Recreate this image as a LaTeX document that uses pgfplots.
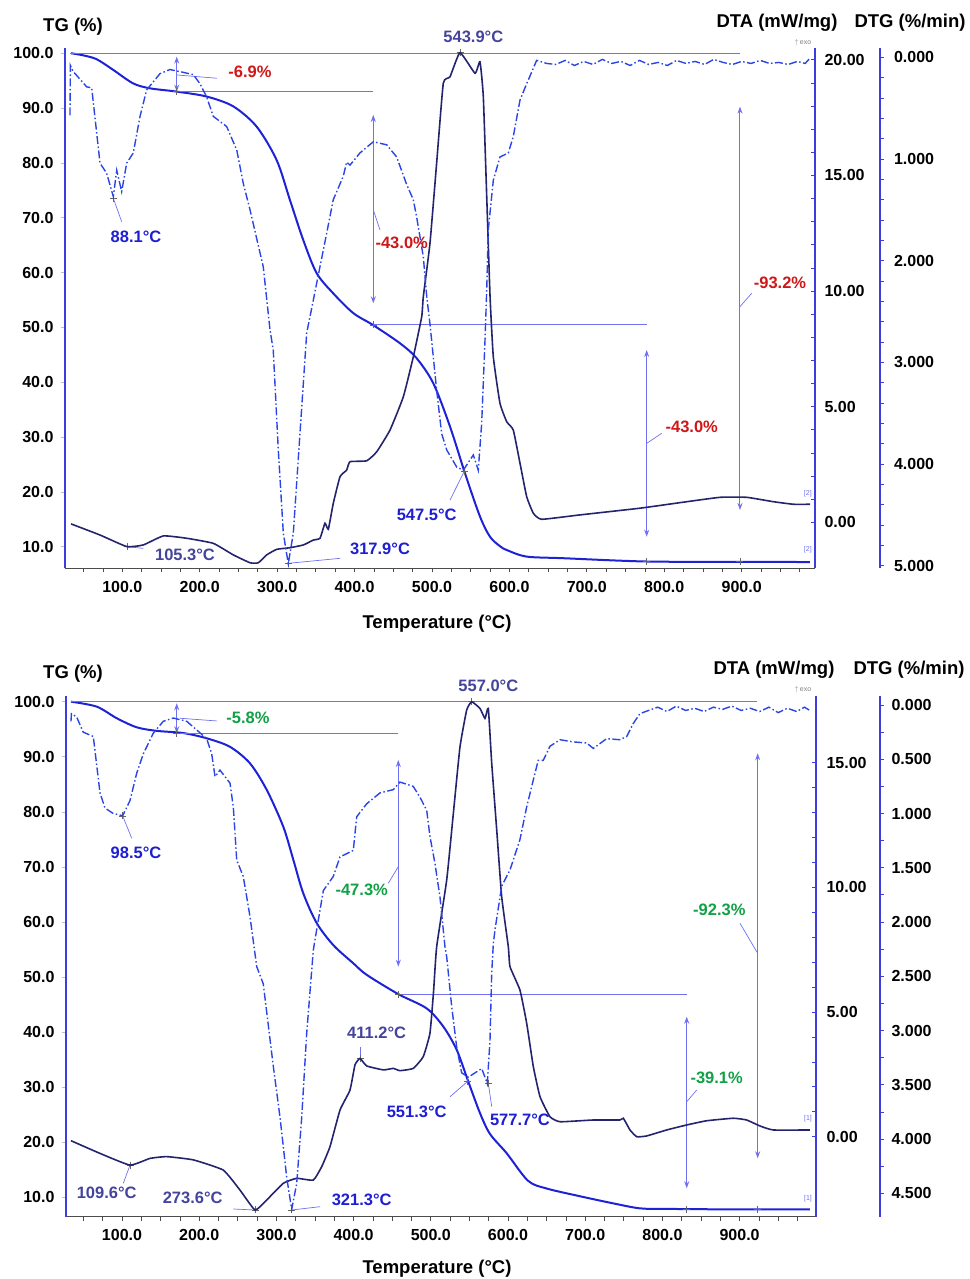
\documentclass[border=0pt]{standalone}
\usepackage{pgfplots}
\pgfplotsset{compat=1.18}
\usepackage{fontspec}
\setmainfont{Liberation Sans}
\usetikzlibrary{arrows.meta}

\definecolor{tgblue}{HTML}{1E22D6}
\definecolor{dtanavy}{HTML}{23236E}
\definecolor{dtgblue}{HTML}{2A44E6}
\definecolor{axblue}{HTML}{3C3CE0}
\definecolor{refblue}{HTML}{7070F0}
\definecolor{lblblue}{HTML}{1E1ED2}
\definecolor{lblslate}{HTML}{44449C}
\definecolor{lblred}{HTML}{D01616}
\definecolor{lblgreen}{HTML}{12A046}

\newcommand\tickfont{\fontsize{16}{18}\selectfont\bfseries}
\newcommand\titlefont{\fontsize{18.5}{20}\selectfont\bfseries}
\newcommand\annfont{\fontsize{16.5}{18}\selectfont\bfseries}
\newcommand\tinyfont{\fontsize{7}{8}\selectfont}

\pgfplotsset{
  panel/.style={scale only axis, anchor=south west,
    tick label style={font=\tickfont, black},
    major tick length=4pt, minor tick length=4pt},
  tgax/.style={panel,
    axis x line=bottom, axis y line=left,
    x axis line style={-, black!70, line width=1.3pt},
    y axis line style={-, axblue, line width=2pt},
    xtick={100,200,300,400,500,600,700,800,900},
    xticklabels={100.0,200.0,300.0,400.0,500.0,600.0,700.0,800.0,900.0},
    minor xtick={50,75,...,975},
    ytick={10,20,30,40,50,60,70,80,90,100},
    yticklabels={10.0,20.0,30.0,40.0,50.0,60.0,70.0,80.0,90.0,100.0},
    xtick style={black!70, line width=0.8pt},
    ytick style={black!25, line width=0.6pt},
    tick align=outside,
    xticklabel style={yshift=-5pt},
    yticklabel style={xshift=-4pt},
    clip=false},
  rax/.style={panel,
    axis y line=right, axis x line=none, xtick=\empty,
    y axis line style={-, axblue, line width=2pt},
    ytick style={axblue, line width=0.8pt}},
  tgline/.style={color=tgblue, line width=2pt, smooth, tension=0.5},
  dtaline/.style={color=dtanavy, line width=1.6pt, smooth, tension=0.25},
  dtgline/.style={color=dtgblue, line width=1.4pt, dash pattern=on 8pt off 2.5pt on 1.5pt off 2.5pt},
  myref/.style={color=refblue, line width=1pt},
  myarr/.style={color=refblue, line width=1pt, arrows={Stealth[length=7pt,width=5pt]-Stealth[length=7pt,width=5pt]}},
  myldr/.style={color=refblue, line width=0.7pt},
  pmark/.style={only marks, mark=+, mark size=3.5pt, color=black!60, mark options={line width=0.9pt}},
}

\begin{document}
\begin{tikzpicture}
\useasboundingbox (0pt,0pt) rectangle (969pt,-1279pt);

% ================= PANEL 1 =================
\begin{axis}[tgax, at={(65pt,-568.3pt)}, width=750pt, height=520pt,
  xmin=26, xmax=994.7, ymin=6.06, ymax=100.9]
\addplot[tgline] coordinates {(33.7,100) (50,99.6) (67,98.9) (88.4,96.95) (114,94.5) (135.8,93.6) (170.3,93.0) (209,92.1) (243.4,90.3) (273.6,86.6) (299.4,80.5) (316.6,73.2) (333.8,65.9) (351,59.9) (372.5,56.2) (398.4,52.6) (424.2,50.4) (458.7,47.1) (480,44.4) (501.7,39.8) (523.3,31.9) (542.6,23.4) (562,15.5) (575,11.8) (587.8,10.1) (596.5,9.4) (622,8.2) (669.6,7.9) (777,7.3) (900,7.25) (988,7.2)};
% reference lines
\addplot[myref] coordinates {(32.4,100) (897.8,100)};
\addplot[myref] coordinates {(170.3,93.0) (424.2,93.0)};
\addplot[myref] coordinates {(424.2,50.44) (777.3,50.44)};
\addplot[myarr] coordinates {(170.3,99.38) (170.3,93.0)};
\addplot[myarr] coordinates {(424.2,88.75) (424.2,54.4)};
\addplot[myarr] coordinates {(777.3,45.88) (777.3,11.82)};
\addplot[myarr] coordinates {(897.8,90.26) (897.8,16.69)};
% leaders
\addplot[myldr] coordinates {(170.3,96.04) (222,95.44)};
\addplot[myldr] coordinates {(424.2,71.42) (432.8,67.77)};
\addplot[myldr] coordinates {(777.3,28.86) (796.7,30.68)};
\addplot[myldr] coordinates {(897.8,53.78) (912.9,56.22)};
\addplot[myldr] coordinates {(88.4,73.55) (99.2,69.28)};
\addplot[myldr] coordinates {(106.1,10.0) (127.1,9.7)};
\addplot[myldr] coordinates {(314.4,6.97) (381.2,7.88)};
\addplot[myldr] coordinates {(541.4,23.68) (523.3,18.5)};
\addplot[pmark] coordinates {(170.3,93.0) (424.2,50.44) (777.3,7.26) (897.8,7.26) (88.4,73.55) (106.1,10.0) (314.4,6.97) (541.4,23.68) (536.2,100.1)};
% labels
\node[font=\annfont, text=lblred] at (axis cs:265,96.59) {-6.9\%};
\node[font=\annfont, text=lblred] at (axis cs:460.9,65.34) {-43.0\%};
\node[font=\annfont, text=lblred] at (axis cs:835.5,31.89) {-43.0\%};
\node[font=\annfont, text=lblred] at (axis cs:949.5,58.04) {-93.2\%};
\node[font=\annfont, text=lblblue] at (axis cs:117.7,66.44) {88.1°C};
\node[font=\annfont, text=lblslate] at (axis cs:181,8.48) {105.3°C};
\node[font=\annfont, text=lblblue] at (axis cs:432.9,9.7) {317.9°C};
\node[font=\annfont, text=lblblue] at (axis cs:493.2,15.78) {547.5°C};
\node[font=\annfont, text=lblslate] at (axis cs:553.4,103.0) {543.9°C};
\node[font=\tinyfont, text=refblue] at (axis cs:985.5,19.7) {[2]};
\node[font=\tinyfont, text=refblue] at (axis cs:985.5,9.52) {[2]};
\node[font=\tinyfont, text=black!50] at (axis cs:979.2,101.9) {$\uparrow$\,exo};
\end{axis}

\begin{axis}[rax, at={(65pt,-568.3pt)}, width=750pt, height=520pt,
  xmin=26, xmax=994.7, ymin=-1.99, ymax=20.5,
  ytick={0,5,10,15,20}, yticklabels={0.00,5.00,10.00,15.00,20.00},
  minor y tick num=4, tick align=inside,
  yticklabel style={xshift=6pt}]
\addplot[dtaline] coordinates {(33.8,-0.07) (71.2,-0.55) (105.7,-1.05) (127.1,-0.98) (153,-0.59) (183,-0.69) (217.5,-0.91) (243.4,-1.41) (265,-1.75) (275.7,-1.75) (286.5,-1.41) (299.4,-1.17) (316.6,-1.10) (333.8,-0.98) (346.7,-0.77) (355.4,-0.69) (361.8,-0.04) (366.1,-0.30) (372.5,0.82) (381.2,1.97) (389.8,2.26) (394.1,2.62) (415.7,2.66) (428.6,3.05) (445.8,3.99) (463,5.43) (475.9,7.16) (486.7,8.89) (488.8,9.76) (497.4,12.07) (506,15.53) (514.6,18.99) (523.3,19.27) (536.2,20.31) (555.6,19.42) (562,19.92) (566.3,18.41) (570.7,14.08) (575,9.76) (579.2,7.16) (587.8,5.15) (596.5,4.35) (605,3.99) (613.7,2.55) (622.3,1.11) (630.9,0.39) (641.7,0.13) (691.2,0.32) (768.7,0.61) (820.4,0.85) (872,1.08) (906.5,1.08) (941,0.89) (966.7,0.78) (988.3,0.78)};
\end{axis}

\begin{axis}[rax, at={(65pt,-568.3pt)}, width=815pt, height=520pt,
  xmin=26, xmax=1078.7, ymin=-0.089, ymax=5.025, y dir=reverse,
  ytick={0,1,2,3,4,5}, yticklabels={0.000,1.000,2.000,3.000,4.000,5.000},
  minor y tick num=4, tick align=outside,
  yticklabel style={xshift=6.5pt}]
\addplot[dtgline] coordinates {(32.4,0.57) (33,0.08) (36.7,0.14) (54,0.29) (60.5,0.30) (71.2,1.04) (79.8,1.14) (88.4,1.37) (92.8,1.11) (99.2,1.32) (105.7,1.04) (114.2,0.94) (122.9,0.58) (131.5,0.32) (148.7,0.16) (161.6,0.12) (174.5,0.14) (191.7,0.17) (200.4,0.26) (209,0.39) (217.5,0.58) (234.8,0.68) (247.8,0.91) (256.3,1.24) (265,1.50) (282.1,2.06) (290.8,2.68) (295,2.88) (301.5,3.86) (308,4.68) (314.4,4.98) (320.9,4.68) (329.5,3.70) (338.2,2.71) (346.7,2.39) (351.1,2.22) (364,1.73) (372.5,1.40) (385.4,1.17) (389.8,1.03) (394.1,1.06) (407,0.94) (424.2,0.83) (441.5,0.86) (454.4,0.98) (467.3,1.25) (475.9,1.40) (480.2,1.57) (488.8,1.96) (493.2,2.35) (497.4,2.62) (506,3.27) (512.5,3.70) (519,3.86) (532,4.03) (540.5,4.06) (549,3.96) (553.4,3.91) (559.8,4.06) (564.2,3.60) (568.5,2.78) (570.7,2.29) (572.7,1.70) (579.2,1.21) (587.8,0.98) (598.6,0.94) (605,0.78) (613.7,0.42) (622.3,0.26) (635.2,0.03) (648.2,0.06) (660,0.07) (672,0.03) (684,0.08) (696,0.04) (708,0.07) (720,0.02) (732,0.06) (744,0.04) (756,0.08) (768,0.03) (780,0.07) (792,0.05) (804,0.08) (816,0.03) (828,0.06) (840,0.04) (852,0.07) (864,0.02) (876,0.05) (888,0.07) (900,0.04) (912,0.06) (924,0.03) (936,0.06) (948,0.05) (960,0.07) (972,0.04) (982,0.06) (988,0.01)};
\end{axis}

\node[font=\titlefont] at (73pt,-27pt) {TG (\%)};
\node[font=\titlefont] at (777pt,-23pt) {DTA (mW/mg)};
\node[font=\titlefont] at (910pt,-23pt) {DTG (\%/min)};
\node[font=\titlefont] at (437pt,-624pt) {Temperature (°C)};

% ================= PANEL 2 =================
\begin{axis}[tgax, at={(66pt,-1216.7pt)}, width=750pt, height=520.7pt,
  xmin=27.46, xmax=998.96, ymin=6.48, ymax=101.03]
\addplot[tgline] coordinates {(33.9,100) (67.2,99.1) (93.1,97.0) (119,95.35) (145,94.7) (179.4,94.3) (209.7,93.35) (239.9,91.8) (265.8,88.8) (287.4,84.0) (308.9,77.3) (321.9,71.3) (334.8,65.2) (352.2,59.8) (373.7,55.8) (399.6,52.5) (417,50.4) (457.9,46.9) (494.7,44.3) (516.2,41.0) (533.5,36.8) (548.6,31.0) (563.7,25.3) (576.7,21.5) (598.3,18.0) (626,13.0) (650.1,11.6) (693.1,10.2) (736.4,8.9) (770.9,8.0) (805.5,7.9) (900,7.8) (991,7.8)};
\addplot[myref] coordinates {(33.9,100) (922.2,100)};
\addplot[myref] coordinates {(170.9,94.26) (457.9,94.26)};
\addplot[myref] coordinates {(457.9,46.87) (831.5,46.87)};
\addplot[myarr] coordinates {(170.9,99.71) (170.9,94.26)};
\addplot[myarr] coordinates {(457.9,89.41) (457.9,51.88)};
\addplot[myarr] coordinates {(831.5,42.8) (831.5,11.64)};
\addplot[myarr] coordinates {(923.4,90.63) (923.4,17.09)};
\addplot[myldr] coordinates {(175.1,96.99) (222.7,96.5)};
\addplot[myldr] coordinates {(457.9,70.04) (444.9,67.02)};
\addplot[myldr] coordinates {(831.5,27.36) (844.4,29.49)};
\addplot[myldr] coordinates {(923.4,54.31) (900.5,59.76)};
\addplot[myldr] coordinates {(100.9,79.25) (112.6,75.2)};
\addplot[myldr] coordinates {(110.4,15.87) (101.7,12.55)};
\addplot[myldr] coordinates {(244.2,7.88) (272.3,7.7)};
\addplot[myldr] coordinates {(319.8,7.7) (356.5,8.3)};
\addplot[myldr] coordinates {(408.3,35.25) (408.3,37.35)};
\addplot[myldr] coordinates {(547.3,31.0) (524.9,28.27)};
\addplot[myldr] coordinates {(574.5,30.7) (578.9,26.46)};
\addplot[pmark] coordinates {(170.9,94.26) (457.9,46.87) (831.5,7.83) (923.4,7.83) (100.9,79.25) (110.4,15.87) (272.3,7.7) (408.3,35.25) (553,100) (319.8,7.7) (547.3,31.0) (574.5,30.7)};
\node[font=\annfont, text=lblgreen] at (axis cs:263.2,96.99) {-5.8\%};
\node[font=\annfont, text=lblgreen] at (axis cs:410.5,65.81) {-47.3\%};
\node[font=\annfont, text=lblgreen] at (axis cs:870.3,31.61) {-39.1\%};
\node[font=\annfont, text=lblgreen] at (axis cs:873.7,62.18) {-92.3\%};
\node[font=\annfont, text=lblblue] at (axis cs:118.1,72.47) {98.5°C};
\node[font=\annfont, text=lblslate] at (axis cs:80.2,10.84) {109.6°C};
\node[font=\annfont, text=lblslate] at (axis cs:191.6,9.83) {273.6°C};
\node[font=\annfont, text=lblblue] at (axis cs:410.5,9.52) {321.3°C};
\node[font=\annfont, text=lblslate] at (axis cs:429.9,39.9) {411.2°C};
\node[font=\annfont, text=lblblue] at (axis cs:481.7,25.55) {551.3°C};
\node[font=\annfont, text=lblblue] at (axis cs:615.5,24.04) {577.7°C};
\node[font=\annfont, text=lblslate] at (axis cs:574.5,102.85) {557.0°C};
\node[font=\tinyfont, text=refblue] at (axis cs:988.6,24.35) {[1]};
\node[font=\tinyfont, text=refblue] at (axis cs:988.6,9.83) {[1]};
\node[font=\tinyfont, text=black!50] at (axis cs:982,102.1) {$\uparrow$\,exo};
\end{axis}

\begin{axis}[rax, at={(66pt,-1216.7pt)}, width=750pt, height=520.7pt,
  xmin=27.46, xmax=998.96, ymin=-3.21, ymax=17.68,
  ytick={0,5,10,15}, yticklabels={0.00,5.00,10.00,15.00},
  minor y tick num=4, tick align=inside,
  yticklabel style={xshift=7pt}]
\addplot[dtaline] coordinates {(33.9,-0.16) (71.5,-0.67) (110.4,-1.14) (136.3,-0.87) (157.9,-0.80) (192.4,-0.93) (231.2,-1.34) (252.8,-2.14) (272.3,-2.94) (287.4,-2.54) (308.9,-1.87) (326.3,-1.67) (347.8,-1.74) (358.7,-1.20) (369.4,-0.40) (382.4,1.07) (395.3,1.87) (401.8,2.88) (408.3,3.14) (416.9,2.84) (438.5,2.68) (451.4,2.74) (460,2.65) (477.3,2.74) (490.2,3.21) (498.9,4.15) (503.5,5.8) (507.6,7.62) (520.6,10.30) (529.2,12.97) (537.8,15.64) (546.5,17.12) (553,17.45) (563.7,17.18) (570.2,16.78) (574.5,17.18) (578.9,14.98) (585.4,12.30) (591.8,9.63) (600.4,7.62) (602.6,6.82) (615.5,5.88) (624.2,4.55) (632.8,2.81) (641.5,1.60) (654.4,0.80) (667.4,0.60) (710.5,0.67) (745,0.67) (749.4,0.74) (758,0.27) (766.7,0.0) (779.6,0.03) (805.5,0.27) (831.4,0.47) (857.4,0.64) (891.8,0.74) (909.1,0.67) (926.4,0.43) (943.6,0.27) (991,0.27)};
\end{axis}

\begin{axis}[rax, at={(66pt,-1216.7pt)}, width=814pt, height=520.7pt,
  xmin=27.46, xmax=1081.9, ymin=-0.083, ymax=4.716, y dir=reverse,
  ytick={0,0.5,1,1.5,2,2.5,3,3.5,4,4.5},
  yticklabels={0.000,0.500,1.000,1.500,2.000,2.500,3.000,3.500,4.000,4.500},
  minor y tick num=1, tick align=outside,
  yticklabel style={xshift=4pt}]
\addplot[dtgline] coordinates {(33.9,0.15) (34.5,0.08) (41.3,0.11) (49.7,0.25) (62.8,0.29) (71.5,0.81) (78,0.95) (88.7,1.00) (100.9,1.02) (110.4,0.88) (119,0.63) (127.6,0.45) (140.5,0.26) (153.5,0.15) (166.4,0.12) (183.8,0.15) (196.8,0.23) (209.7,0.31) (216.2,0.45) (220.5,0.66) (226.9,0.60) (239.9,0.72) (244.2,0.94) (248.6,1.43) (257.1,1.58) (265.8,1.95) (274.5,2.41) (283,2.57) (296,3.33) (304.7,3.80) (313.3,4.35) (319.8,4.65) (326.3,4.41) (332.8,3.80) (339.2,3.03) (347.8,2.26) (352.2,2.07) (360.8,1.71) (373.7,1.58) (382.4,1.40) (399.6,1.34) (404,1.03) (417,0.91) (434.2,0.81) (451.4,0.78) (460,0.71) (477.3,0.75) (486,0.85) (494.7,0.97) (498.9,1.21) (505.4,1.46) (511.9,1.77) (518.4,2.23) (520.6,2.32) (527.1,2.78) (533.5,3.15) (540,3.39) (548.6,3.43) (559.5,3.38) (565.9,3.35) (570.2,3.43) (573.2,3.49) (576.7,3.09) (578.9,2.47) (581,2.2) (583.2,2.07) (591.8,1.67) (602.6,1.52) (615.5,1.24) (624.2,0.94) (632.8,0.69) (639.2,0.51) (645.7,0.51) (654.4,0.38) (667.4,0.32) (684.6,0.34) (701.9,0.35) (710.5,0.40) (727.8,0.31) (745,0.32) (753.8,0.29) (762.3,0.17) (770.9,0.08) (782,0.05) (794,0.02) (806,0.06) (818,0.01) (830,0.05) (842,0.03) (854,0.06) (866,0.02) (878,0.04) (890,0.01) (902,0.05) (914,0.03) (926,0.06) (938,0.02) (950,0.07) (962,0.03) (974,0.06) (984,0.02) (991,0.05)};
\end{axis}

\node[font=\titlefont] at (73pt,-674pt) {TG (\%)};
\node[font=\titlefont] at (774pt,-670pt) {DTA (mW/mg)};
\node[font=\titlefont] at (909pt,-670pt) {DTG (\%/min)};
\node[font=\titlefont] at (437pt,-1269pt) {Temperature (°C)};
\end{tikzpicture}
\end{document}
